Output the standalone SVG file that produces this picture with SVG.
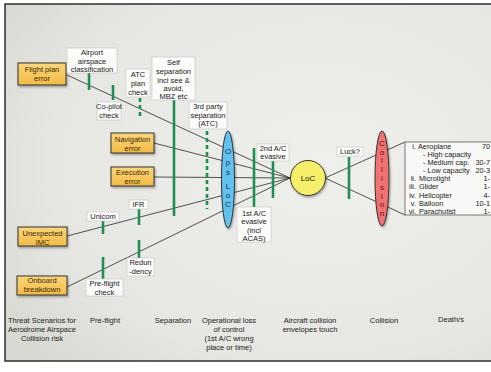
<svg xmlns="http://www.w3.org/2000/svg" width="491" height="372" viewBox="0 0 491 372">
<defs>
<radialGradient id="bg" cx="0.65" cy="0.45" r="0.8">
<stop offset="0" stop-color="#efefec"/>
<stop offset="0.7" stop-color="#e6e6e2"/>
<stop offset="1" stop-color="#d8d8d3"/>
</radialGradient>
<linearGradient id="org" x1="0" y1="0" x2="0" y2="1">
<stop offset="0" stop-color="#fbd67c"/>
<stop offset="1" stop-color="#f1bb45"/>
</linearGradient>
<filter id="sh" x="-30%" y="-30%" width="160%" height="160%">
<feDropShadow dx="1" dy="1.5" stdDeviation="1" flood-color="#000" flood-opacity="0.35"/>
</filter>
<style>
text{font-family:"Liberation Sans",Arial,sans-serif;font-size:7.5px;fill:#222;text-anchor:middle}
.ob{fill:url(#org);stroke:#333;stroke-width:1;filter:url(#sh)}
.ot{fill:#3a2608}
.lb{fill:#fbfbfa;stroke:#c4c4c0;stroke-width:0.6}
.bar{stroke:#1f8f55;stroke-width:2.6;fill:none}
.dash{stroke:#1f8f55;stroke-width:2.6;fill:none;stroke-dasharray:4,3}
.ln{stroke:#2a2a2a;stroke-width:0.8;fill:none}
.dl{text-anchor:start;font-size:7.3px}
.dn{text-anchor:end;font-size:7.3px}
.vt{font-size:8px}
.ops{fill:#1a2e55}
.col{fill:#6a0d0d}
</style>
</defs>
<rect x="0" y="0" width="491" height="372" fill="#ffffff"/>
<rect x="5" y="4" width="490" height="357" fill="url(#bg)" stroke="#2e2e2e" stroke-width="1.5"/>

<g id="connectors">
<line class="ln" x1="67" y1="75" x2="290" y2="178"/>
<line class="ln" x1="154" y1="143" x2="290" y2="178"/>
<line class="ln" x1="154" y1="177" x2="290" y2="178"/>
<line class="ln" x1="67" y1="236" x2="290" y2="178"/>
<line class="ln" x1="67" y1="287" x2="290" y2="178"/>
<line class="ln" x1="325" y1="178" x2="405" y2="142"/>
<line class="ln" x1="325" y1="178" x2="405" y2="215"/>
</g>

<g id="flight-plan-error"><rect class="ob" x="18" y="63" width="48" height="22"/><text class="ot" x="42" y="72">Flight plan</text><text class="ot" x="42" y="81">error</text></g>
<g id="navigation-error"><rect class="ob" x="111" y="133" width="43" height="20"/><text class="ot" x="132.5" y="141.5">Navigation</text><text class="ot" x="132.5" y="150.5">error</text></g>
<g id="execution-error"><rect class="ob" x="111" y="167" width="43" height="19"/><text class="ot" x="132.5" y="174.5">Execution</text><text class="ot" x="132.5" y="183.5">error</text></g>
<g id="unexpected-imc"><rect class="ob" x="18" y="227" width="49" height="19"/><text class="ot" x="42.5" y="235.5">Unexpected</text><text class="ot" x="42.5" y="244.5">IMC</text></g>
<g id="onboard-breakdown"><rect class="ob" x="17" y="276" width="50" height="19"/><text class="ot" x="42" y="282.5">Onboard</text><text class="ot" x="42" y="291.5">breakdown</text></g>

<g id="airport-airspace"><line class="bar" x1="89" y1="73" x2="89" y2="90"/><rect class="lb" x="67" y="48" width="50" height="25"/><text x="92" y="54.5">Airport</text><text x="92" y="63.5">airspace</text><text x="92" y="72">classification</text></g>
<g id="co-pilot-check"><line class="bar" x1="113" y1="85" x2="113" y2="100"/><rect class="lb" x="97" y="102" width="24" height="18"/><text x="109" y="108.5">Co-pilot</text><text x="109" y="117.5">check</text></g>
<g id="atc-plan-check"><line class="dash" x1="140" y1="98" x2="140" y2="119"/><rect class="lb" x="126" y="69" width="24" height="28"/><text x="138" y="77">ATC</text><text x="138" y="86">plan</text><text x="138" y="94.5">check</text></g>
<g id="self-separation"><line class="bar" x1="174" y1="100" x2="174" y2="216"/><rect class="lb" x="152" y="57" width="43" height="43"/><text x="173.5" y="64.5">Self</text><text x="173.5" y="74">separation</text><text x="173.5" y="82.5">incl see &amp;</text><text x="173.5" y="91">avoid,</text><text x="173.5" y="99">MBZ etc</text></g>
<g id="third-party-separation"><line class="dash" x1="207" y1="131" x2="207" y2="209"/><rect class="lb" x="189" y="102" width="38" height="27"/><text x="208" y="109">3rd party</text><text x="208" y="117.5">separation</text><text x="208" y="126">(ATC)</text></g>
<g id="unicom"><line class="bar" x1="103" y1="221" x2="103" y2="234"/><rect class="lb" x="87" y="212" width="32" height="9"/><text x="103" y="219">Unicom</text></g>
<g id="ifr"><line class="bar" x1="139" y1="209" x2="139" y2="225"/><rect class="lb" x="129" y="200" width="19" height="9"/><text x="138.5" y="207">IFR</text></g>
<g id="redundancy"><line class="bar" x1="139" y1="240" x2="139" y2="258"/><rect class="lb" x="127" y="258" width="27" height="18"/><text x="140.5" y="264.5">Redun</text><text x="140.5" y="273.5">-dency</text></g>
<g id="pre-flight-check"><line class="bar" x1="103" y1="257" x2="103" y2="279"/><rect class="lb" x="86" y="279" width="37" height="17"/><text x="104.5" y="285.5">Pre-flight</text><text x="104.5" y="294.5">check</text></g>

<g id="ops-loc"><ellipse cx="228" cy="179.5" rx="6.5" ry="48.5" fill="#62c2ef" stroke="#333" stroke-width="1" filter="url(#sh)"/>
<text class="vt ops" x="228" y="154">O</text><text class="vt ops" x="228" y="164.5">p</text><text class="vt ops" x="228" y="174.5">s</text><text class="vt ops" x="228" y="189">L</text><text class="vt ops" x="228" y="198">o</text><text class="vt ops" x="228" y="207">C</text></g>

<g id="first-ac-evasive"><line class="bar" x1="254" y1="148" x2="254" y2="207"/><rect class="lb" x="237" y="207" width="34" height="35"/><text x="254" y="215.5">1st A/C</text><text x="254" y="224">evasive</text><text x="254" y="232.5">(incl</text><text x="254" y="240.5">ACAS)</text></g>
<g id="second-ac-evasive"><line class="bar" x1="273" y1="161" x2="273" y2="198"/><rect class="lb" x="257" y="144" width="32" height="17"/><text x="273" y="150.5">2nd A/C</text><text x="273" y="159">evasive</text></g>

<g id="loc"><circle cx="308" cy="178" r="17.5" fill="#f6ef6a" stroke="#333" stroke-width="1" filter="url(#sh)"/><text x="308" y="181" style="font-size:8px">LoC</text></g>

<g id="luck"><line class="bar" x1="349" y1="157" x2="349" y2="199"/><rect class="lb" x="337" y="147" width="26" height="9"/><text x="350" y="154">Luck?</text></g>

<g id="collision"><ellipse cx="382" cy="178.5" rx="7" ry="47.5" fill="#f07272" stroke="#333" stroke-width="1" filter="url(#sh)"/>
<text class="vt col" x="382" y="146">C</text><text class="vt col" x="382" y="154.5">o</text><text class="vt col" x="382" y="163">l</text><text class="vt col" x="382" y="172">l</text><text class="vt col" x="382" y="181">i</text><text class="vt col" x="382" y="190">s</text><text class="vt col" x="382" y="198.5">i</text><text class="vt col" x="382" y="207">o</text><text class="vt col" x="382" y="216">n</text></g>

<g id="deaths-box"><rect x="405" y="142" width="100" height="73" fill="#f8f8f6" stroke="#777" stroke-width="1"/>
<text class="dn" x="416" y="148.5">i.</text><text class="dl" x="418" y="148.5">Aeroplane</text>
<text class="dl" x="423" y="157">- High capacity</text>
<text class="dl" x="423" y="164.5">- Medium cap.</text>
<text class="dl" x="423" y="172.5">- Low capacity</text>
<text class="dn" x="416" y="180.5">ii.</text><text class="dl" x="419" y="180.5">Microlight</text>
<text class="dn" x="416" y="189">iii.</text><text class="dl" x="419" y="189">Glider</text>
<text class="dn" x="416" y="197.5">iv.</text><text class="dl" x="419" y="197.5">Helicopter</text>
<text class="dn" x="416" y="205.5">v.</text><text class="dl" x="419" y="205.5">Balloon</text>
<text class="dn" x="416" y="213.5">vi.</text><text class="dl" x="419" y="213.5">Parachutist</text>
<text class="dn" x="490" y="148.5">70</text>
<text class="dn" x="490" y="164.5">30-7</text>
<text class="dn" x="490" y="172.5">20-3</text>
<text class="dn" x="490" y="180.5">1-</text>
<text class="dn" x="490" y="189">1-</text>
<text class="dn" x="490" y="197.5">4-</text>
<text class="dn" x="490" y="205.5">10-1</text>
<text class="dn" x="490" y="213.5">1-</text>
</g>

<g id="stage-labels">
<text x="42" y="322.5">Threat Scenarios for</text><text x="42" y="331.5">Aerodrome Airspace</text><text x="42" y="340.5">Collision risk</text>
<text x="105" y="322.5">Pre-flight</text>
<text x="173" y="322.5">Separation</text>
<text x="229" y="322.5">Operational loss</text><text x="229" y="331.5">of control</text><text x="229" y="340.5">(1st A/C wrong</text><text x="229" y="349.5">place or time)</text>
<text x="310" y="322.5">Aircraft collision</text><text x="310" y="331.5">envelopes touch</text>
<text x="384" y="322.5">Collision</text>
<text x="451" y="321.5">Death/s</text>
</g>
</svg>
